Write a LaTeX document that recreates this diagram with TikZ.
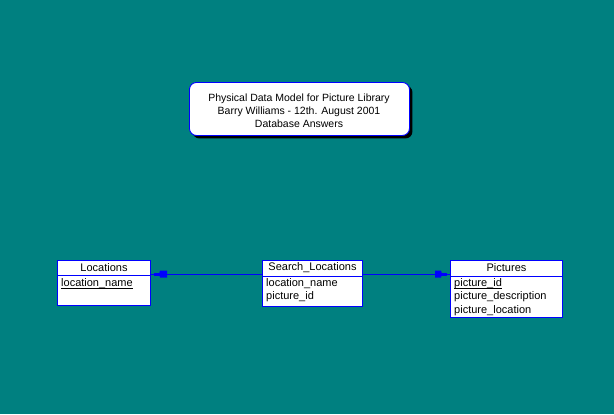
\documentclass[tikz,border=0pt]{standalone}
\usepackage{fontspec}
\setmainfont{Liberation Sans}
\usetikzlibrary{shadows}
\definecolor{bgteal}{HTML}{008080}
\definecolor{entblue}{HTML}{0000FF}
\newcommand\keyul[1]{\setbox0\hbox{#1}\rlap{\rule[-2.1bp]{\wd0}{0.75bp}}\box0}
\tikzset{
  titlebox/.style={draw=entblue, fill=white, rounded corners=7bp, line width=0.9bp,
    minimum width=220bp, minimum height=53bp, anchor=north west, inner sep=0pt,
    drop shadow={shadow xshift=3bp, shadow yshift=-3bp, fill=black, opacity=1}},
  entbox/.style={draw=entblue, fill=white, line width=1bp, anchor=north west, inner sep=0pt},
  hdr/.style={font=\fontsize{11bp}{13bp}\selectfont, anchor=center, inner sep=0pt},
  fld/.style={font=\fontsize{11bp}{13bp}\selectfont, anchor=west, inner sep=0pt},
  sep/.style={draw=entblue, line width=1bp},
  rel/.style={draw=entblue, line width=1bp},
  tip/.style={fill=entblue},
}
\begin{document}
\begin{tikzpicture}[x=1bp,y=-1bp]
\fill[bgteal] (0,0) rectangle (614,414);
\useasboundingbox (0,0) rectangle (614,414);

% title
\node[titlebox] (title) at (189,82) {};
\node[font=\fontsize{10.5bp}{13bp}\selectfont, align=center, inner sep=0pt] (titletext) at (299,111)
  {Physical Data Model for Picture Library\\Barry Williams - 12th. August 2001\\Database Answers};

% Locations
\node[entbox, minimum width=93bp, minimum height=45bp] (loc) at (57,260) {};
\node[hdr] (lochdr) at ([yshift=-8bp]loc.north) {Locations};
\draw[sep] ([yshift=-15bp]loc.north west) -- ([yshift=-15bp]loc.north east);
\node[fld] (locf1) at ([shift={(4,23.5)}]loc.north west) {\keyul{location\_name}};

% Search_Locations
\node[entbox, minimum width=100bp, minimum height=46bp] (srch) at (262,260) {};
\node[hdr] (srchhdr) at ([yshift=-8bp]srch.north) {Search\_Locations};
\draw[sep] ([yshift=-16bp]srch.north west) -- ([yshift=-16bp]srch.north east);
\node[fld] (srchf1) at ([shift={(4,23.5)}]srch.north west) {location\_name};
\node[fld] (srchf2) at ([shift={(4,36.5)}]srch.north west) {picture\_id};

% Pictures
\node[entbox, minimum width=112bp, minimum height=57bp] (pic) at (450,260) {};
\node[hdr] (pichdr) at ([yshift=-8bp]pic.north) {Pictures};
\draw[sep] ([yshift=-16bp]pic.north west) -- ([yshift=-16bp]pic.north east);
\node[fld] (picf1) at ([shift={(4,23.5)}]pic.north west) {\keyul{picture\_id}};
\node[fld] (picf2) at ([shift={(4,37)}]pic.north west) {picture\_description};
\node[fld] (picf3) at ([shift={(4,50.5)}]pic.north west) {picture\_location};

% relationships
\draw[rel] ([yshift=-14bp]srch.north west) -- ([yshift=-14bp]loc.north east);
\fill[tip] ([shift={(3,12.5)}]loc.north east) rectangle ([shift={(10,15.5)}]loc.north east);
\fill[tip] ([shift={(9,10.5)}]loc.north east) -- ([shift={(16,10.5)}]loc.north east)
  -- ([shift={(16,17.5)}]loc.north east) -- ([shift={(9,17.5)}]loc.north east)
  -- ([shift={(8,14)}]loc.north east) -- cycle;

\draw[rel] ([yshift=-14bp]srch.north east) -- ([yshift=-14bp]pic.north west);
\fill[tip] ([shift={(-3,12.5)}]pic.north west) rectangle ([shift={(-10,15.5)}]pic.north west);
\fill[tip] ([shift={(-9,10.5)}]pic.north west) -- ([shift={(-15,10.5)}]pic.north west)
  -- ([shift={(-15,17.5)}]pic.north west) -- ([shift={(-9,17.5)}]pic.north west)
  -- ([shift={(-8,14)}]pic.north west) -- cycle;
\end{tikzpicture}
\end{document}
